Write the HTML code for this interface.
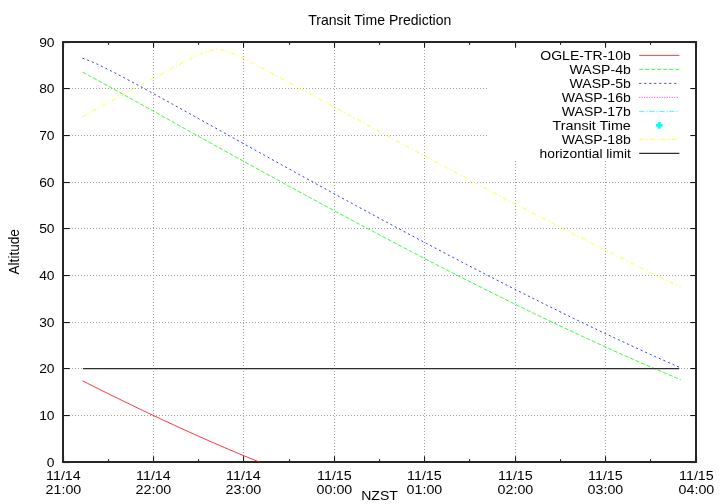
<!DOCTYPE html>
<html>
<head>
<meta charset="utf-8">
<title>Transit Time Prediction</title>
<style>
html, body { margin: 0; padding: 0; background: #ffffff; }
body { width: 720px; height: 504px; overflow: hidden; font-family: 'Liberation Sans', sans-serif; }
svg { display: block; will-change: transform; }
svg text { font-family: 'Liberation Sans', sans-serif; fill: #000; }
</style>
</head>
<body>
<svg width="720" height="504" viewBox="0 0 720 504">
<rect x="0" y="0" width="720" height="504" fill="#ffffff"/>
<line x1="63" y1="415.5" x2="696" y2="415.5" stroke="#a0a0a0" stroke-width="1" stroke-dasharray="1 2" shape-rendering="crispEdges"/>
<line x1="63" y1="368.5" x2="696" y2="368.5" stroke="#a0a0a0" stroke-width="1" stroke-dasharray="1 2" shape-rendering="crispEdges"/>
<line x1="63" y1="322.5" x2="696" y2="322.5" stroke="#a0a0a0" stroke-width="1" stroke-dasharray="1 2" shape-rendering="crispEdges"/>
<line x1="63" y1="275.5" x2="696" y2="275.5" stroke="#a0a0a0" stroke-width="1" stroke-dasharray="1 2" shape-rendering="crispEdges"/>
<line x1="63" y1="228.5" x2="696" y2="228.5" stroke="#a0a0a0" stroke-width="1" stroke-dasharray="1 2" shape-rendering="crispEdges"/>
<line x1="63" y1="182.5" x2="696" y2="182.5" stroke="#a0a0a0" stroke-width="1" stroke-dasharray="1 2" shape-rendering="crispEdges"/>
<line x1="63" y1="135.5" x2="487" y2="135.5" stroke="#a0a0a0" stroke-width="1" stroke-dasharray="1 2" shape-rendering="crispEdges"/>
<line x1="63" y1="88.5" x2="487" y2="88.5" stroke="#a0a0a0" stroke-width="1" stroke-dasharray="1 2" shape-rendering="crispEdges"/>
<line x1="153.5" y1="41" x2="153.5" y2="462" stroke="#a0a0a0" stroke-width="1" stroke-dasharray="1 2" shape-rendering="crispEdges"/>
<line x1="243.5" y1="41" x2="243.5" y2="462" stroke="#a0a0a0" stroke-width="1" stroke-dasharray="1 2" shape-rendering="crispEdges"/>
<line x1="334.5" y1="41" x2="334.5" y2="462" stroke="#a0a0a0" stroke-width="1" stroke-dasharray="1 2" shape-rendering="crispEdges"/>
<line x1="424.5" y1="41" x2="424.5" y2="462" stroke="#a0a0a0" stroke-width="1" stroke-dasharray="1 2" shape-rendering="crispEdges"/>
<line x1="515.5" y1="161" x2="515.5" y2="462" stroke="#a0a0a0" stroke-width="1" stroke-dasharray="1 2" shape-rendering="crispEdges"/>
<line x1="605.5" y1="161" x2="605.5" y2="462" stroke="#a0a0a0" stroke-width="1" stroke-dasharray="1 2" shape-rendering="crispEdges"/>
<line x1="63" y1="462.55" x2="69.7" y2="462.55" stroke="#141414" stroke-width="1.05"/>
<line x1="696" y1="462.55" x2="690.3" y2="462.55" stroke="#141414" stroke-width="1.05"/>
<line x1="63" y1="415.55" x2="69.7" y2="415.55" stroke="#141414" stroke-width="1.05"/>
<line x1="696" y1="415.55" x2="690.3" y2="415.55" stroke="#141414" stroke-width="1.05"/>
<line x1="63" y1="368.55" x2="69.7" y2="368.55" stroke="#141414" stroke-width="1.05"/>
<line x1="696" y1="368.55" x2="690.3" y2="368.55" stroke="#141414" stroke-width="1.05"/>
<line x1="63" y1="322.55" x2="69.7" y2="322.55" stroke="#141414" stroke-width="1.05"/>
<line x1="696" y1="322.55" x2="690.3" y2="322.55" stroke="#141414" stroke-width="1.05"/>
<line x1="63" y1="275.55" x2="69.7" y2="275.55" stroke="#141414" stroke-width="1.05"/>
<line x1="696" y1="275.55" x2="690.3" y2="275.55" stroke="#141414" stroke-width="1.05"/>
<line x1="63" y1="228.55" x2="69.7" y2="228.55" stroke="#141414" stroke-width="1.05"/>
<line x1="696" y1="228.55" x2="690.3" y2="228.55" stroke="#141414" stroke-width="1.05"/>
<line x1="63" y1="182.55" x2="69.7" y2="182.55" stroke="#141414" stroke-width="1.05"/>
<line x1="696" y1="182.55" x2="690.3" y2="182.55" stroke="#141414" stroke-width="1.05"/>
<line x1="63" y1="135.55" x2="69.7" y2="135.55" stroke="#141414" stroke-width="1.05"/>
<line x1="696" y1="135.55" x2="690.3" y2="135.55" stroke="#141414" stroke-width="1.05"/>
<line x1="63" y1="88.55" x2="69.7" y2="88.55" stroke="#141414" stroke-width="1.05"/>
<line x1="696" y1="88.55" x2="690.3" y2="88.55" stroke="#141414" stroke-width="1.05"/>
<line x1="63" y1="42.55" x2="69.7" y2="42.55" stroke="#141414" stroke-width="1.05"/>
<line x1="696" y1="42.55" x2="690.3" y2="42.55" stroke="#141414" stroke-width="1.05"/>
<line x1="63.55" y1="462" x2="63.55" y2="456.3" stroke="#141414" stroke-width="1.05"/>
<line x1="63.55" y1="42" x2="63.55" y2="47.7" stroke="#141414" stroke-width="1.05"/>
<line x1="108.55" y1="462" x2="108.55" y2="459.2" stroke="#141414" stroke-width="1.05"/>
<line x1="108.55" y1="42" x2="108.55" y2="44.8" stroke="#141414" stroke-width="1.05"/>
<line x1="153.55" y1="462" x2="153.55" y2="456.3" stroke="#141414" stroke-width="1.05"/>
<line x1="153.55" y1="42" x2="153.55" y2="47.7" stroke="#141414" stroke-width="1.05"/>
<line x1="198.55" y1="462" x2="198.55" y2="459.2" stroke="#141414" stroke-width="1.05"/>
<line x1="198.55" y1="42" x2="198.55" y2="44.8" stroke="#141414" stroke-width="1.05"/>
<line x1="243.55" y1="462" x2="243.55" y2="456.3" stroke="#141414" stroke-width="1.05"/>
<line x1="243.55" y1="42" x2="243.55" y2="47.7" stroke="#141414" stroke-width="1.05"/>
<line x1="289.55" y1="462" x2="289.55" y2="459.2" stroke="#141414" stroke-width="1.05"/>
<line x1="289.55" y1="42" x2="289.55" y2="44.8" stroke="#141414" stroke-width="1.05"/>
<line x1="334.55" y1="462" x2="334.55" y2="456.3" stroke="#141414" stroke-width="1.05"/>
<line x1="334.55" y1="42" x2="334.55" y2="47.7" stroke="#141414" stroke-width="1.05"/>
<line x1="379.55" y1="462" x2="379.55" y2="459.2" stroke="#141414" stroke-width="1.05"/>
<line x1="379.55" y1="42" x2="379.55" y2="44.8" stroke="#141414" stroke-width="1.05"/>
<line x1="424.55" y1="462" x2="424.55" y2="456.3" stroke="#141414" stroke-width="1.05"/>
<line x1="424.55" y1="42" x2="424.55" y2="47.7" stroke="#141414" stroke-width="1.05"/>
<line x1="469.55" y1="462" x2="469.55" y2="459.2" stroke="#141414" stroke-width="1.05"/>
<line x1="469.55" y1="42" x2="469.55" y2="44.8" stroke="#141414" stroke-width="1.05"/>
<line x1="515.55" y1="462" x2="515.55" y2="456.3" stroke="#141414" stroke-width="1.05"/>
<line x1="515.55" y1="42" x2="515.55" y2="47.7" stroke="#141414" stroke-width="1.05"/>
<line x1="560.55" y1="462" x2="560.55" y2="459.2" stroke="#141414" stroke-width="1.05"/>
<line x1="560.55" y1="42" x2="560.55" y2="44.8" stroke="#141414" stroke-width="1.05"/>
<line x1="605.55" y1="462" x2="605.55" y2="456.3" stroke="#141414" stroke-width="1.05"/>
<line x1="605.55" y1="42" x2="605.55" y2="47.7" stroke="#141414" stroke-width="1.05"/>
<line x1="650.55" y1="462" x2="650.55" y2="459.2" stroke="#141414" stroke-width="1.05"/>
<line x1="650.55" y1="42" x2="650.55" y2="44.8" stroke="#141414" stroke-width="1.05"/>
<line x1="696.55" y1="462" x2="696.55" y2="456.3" stroke="#141414" stroke-width="1.05"/>
<line x1="696.55" y1="42" x2="696.55" y2="47.7" stroke="#141414" stroke-width="1.05"/>
<rect x="63" y="42" width="633" height="420" fill="none" stroke="#262626" stroke-width="2"/>
<text transform="translate(54.55,466.50) scale(0.99,0.9)" text-anchor="end" font-size="14.0">0</text>
<text transform="translate(54.55,419.83) scale(0.99,0.9)" text-anchor="end" font-size="14.0">10</text>
<text transform="translate(54.55,373.17) scale(0.99,0.9)" text-anchor="end" font-size="14.0">20</text>
<text transform="translate(54.55,326.50) scale(0.99,0.9)" text-anchor="end" font-size="14.0">30</text>
<text transform="translate(54.55,279.83) scale(0.99,0.9)" text-anchor="end" font-size="14.0">40</text>
<text transform="translate(54.55,233.17) scale(0.99,0.9)" text-anchor="end" font-size="14.0">50</text>
<text transform="translate(54.55,186.50) scale(0.99,0.9)" text-anchor="end" font-size="14.0">60</text>
<text transform="translate(54.55,139.83) scale(0.99,0.9)" text-anchor="end" font-size="14.0">70</text>
<text transform="translate(54.55,93.17) scale(0.99,0.9)" text-anchor="end" font-size="14.0">80</text>
<text transform="translate(54.55,46.50) scale(0.99,0.9)" text-anchor="end" font-size="14.0">90</text>
<text transform="translate(63.40,479.70) scale(1.02,0.9)" text-anchor="middle" font-size="14.0">11/14</text>
<text transform="translate(63.40,493.60) scale(1.02,0.9)" text-anchor="middle" font-size="14.0">21:00</text>
<text transform="translate(153.40,479.70) scale(1.02,0.9)" text-anchor="middle" font-size="14.0">11/14</text>
<text transform="translate(153.40,493.60) scale(1.02,0.9)" text-anchor="middle" font-size="14.0">22:00</text>
<text transform="translate(243.40,479.70) scale(1.02,0.9)" text-anchor="middle" font-size="14.0">11/14</text>
<text transform="translate(243.40,493.60) scale(1.02,0.9)" text-anchor="middle" font-size="14.0">23:00</text>
<text transform="translate(334.40,479.70) scale(1.02,0.9)" text-anchor="middle" font-size="14.0">11/15</text>
<text transform="translate(334.40,493.60) scale(1.02,0.9)" text-anchor="middle" font-size="14.0">00:00</text>
<text transform="translate(424.40,479.70) scale(1.02,0.9)" text-anchor="middle" font-size="14.0">11/15</text>
<text transform="translate(424.40,493.60) scale(1.02,0.9)" text-anchor="middle" font-size="14.0">01:00</text>
<text transform="translate(515.40,479.70) scale(1.02,0.9)" text-anchor="middle" font-size="14.0">11/15</text>
<text transform="translate(515.40,493.60) scale(1.02,0.9)" text-anchor="middle" font-size="14.0">02:00</text>
<text transform="translate(605.40,479.70) scale(1.02,0.9)" text-anchor="middle" font-size="14.0">11/15</text>
<text transform="translate(605.40,493.60) scale(1.02,0.9)" text-anchor="middle" font-size="14.0">03:00</text>
<text transform="translate(696.40,479.70) scale(1.02,0.9)" text-anchor="middle" font-size="14.0">11/15</text>
<text transform="translate(696.40,493.60) scale(1.02,0.9)" text-anchor="middle" font-size="14.0">04:00</text>
<text transform="translate(379.80,24.80) scale(1.004,1)" text-anchor="middle" font-size="14.0">Transit Time Prediction</text>
<text transform="translate(379.50,500.20) scale(1.004,0.93)" text-anchor="middle" font-size="14.0">NZST</text>
<text transform="translate(19.3,251.8) rotate(-90) scale(1,1.05)" text-anchor="middle" font-size="13.6">Altitude</text>
<path d="M82.50,380.82 L84.99,382.08 L87.48,383.33 L89.98,384.59 L92.47,385.84 L94.96,387.08 L97.46,388.33 L99.95,389.57 L102.44,390.81 L104.93,392.05 L107.42,393.28 L109.92,394.51 L112.41,395.74 L114.90,396.96 L117.39,398.19 L119.89,399.40 L122.38,400.62 L124.87,401.83 L127.37,403.04 L129.86,404.25 L132.35,405.46 L134.84,406.66 L137.34,407.86 L139.83,409.05 L142.32,410.24 L144.81,411.43 L147.31,412.62 L149.80,413.80 L152.29,414.98 L154.78,416.15 L157.28,417.32 L159.77,418.49 L162.26,419.66 L164.75,420.82 L167.25,421.98 L169.74,423.13 L172.23,424.28 L174.72,425.43 L177.22,426.58 L179.71,427.72 L182.20,428.85 L184.69,429.99 L187.19,431.12 L189.68,432.24 L192.17,433.36 L194.66,434.48 L197.16,435.60 L199.65,436.71 L202.14,437.81 L204.63,438.91 L207.12,440.01 L209.62,441.11 L212.11,442.20 L214.60,443.28 L217.10,444.37 L219.59,445.44 L222.08,446.52 L224.57,447.59 L227.07,448.65 L229.56,449.71 L232.05,450.77 L234.54,451.82 L237.04,452.87 L239.53,453.91 L242.02,454.95 L244.51,455.98 L247.01,457.01 L249.50,458.04 L251.99,459.06 L254.48,460.07 L256.98,461.08 L259.47,462.09 L260.49,462.50" fill="none" stroke="#ff0000" stroke-width="0.8"/>
<path d="M82.50,72.04 L84.99,73.38 L87.48,74.73 L89.98,76.09 L92.47,77.45 L94.96,78.81 L97.46,80.17 L99.95,81.54 L102.44,82.91 L104.93,84.28 L107.42,85.66 L109.92,87.04 L112.41,88.41 L114.90,89.79 L117.39,91.17 L119.89,92.55 L122.38,93.94 L124.87,95.32 L127.37,96.70 L129.86,98.09 L132.35,99.48 L134.84,100.86 L137.34,102.25 L139.83,103.63 L142.32,105.02 L144.81,106.41 L147.31,107.80 L149.80,109.18 L152.29,110.57 L154.78,111.96 L157.28,113.35 L159.77,114.74 L162.26,116.13 L164.75,117.51 L167.25,118.90 L169.74,120.29 L172.23,121.68 L174.72,123.06 L177.22,124.45 L179.71,125.84 L182.20,127.23 L184.69,128.61 L187.19,130.00 L189.68,131.38 L192.17,132.77 L194.66,134.16 L197.16,135.54 L199.65,136.93 L202.14,138.31 L204.63,139.69 L207.12,141.08 L209.62,142.46 L212.11,143.84 L214.60,145.22 L217.10,146.61 L219.59,147.99 L222.08,149.37 L224.57,150.75 L227.07,152.13 L229.56,153.50 L232.05,154.88 L234.54,156.26 L237.04,157.64 L239.53,159.01 L242.02,160.39 L244.51,161.76 L247.01,163.14 L249.50,164.51 L251.99,165.88 L254.48,167.26 L256.98,168.63 L259.47,170.00 L261.96,171.37 L264.45,172.74 L266.95,174.10 L269.44,175.47 L271.93,176.84 L274.42,178.21 L276.91,179.57 L279.41,180.93 L281.90,182.30 L284.39,183.66 L286.88,185.02 L289.38,186.38 L291.87,187.74 L294.36,189.10 L296.86,190.46 L299.35,191.82 L301.84,193.17 L304.33,194.53 L306.83,195.88 L309.32,197.23 L311.81,198.59 L314.30,199.94 L316.80,201.29 L319.29,202.64 L321.78,203.98 L324.27,205.33 L326.77,206.68 L329.26,208.02 L331.75,209.37 L334.24,210.71 L336.74,212.05 L339.23,213.39 L341.72,214.73 L344.21,216.07 L346.71,217.40 L349.20,218.74 L351.69,220.07 L354.18,221.41 L356.68,222.74 L359.17,224.07 L361.66,225.40 L364.15,226.73 L366.65,228.05 L369.14,229.38 L371.63,230.70 L374.12,232.02 L376.62,233.35 L379.11,234.67 L381.60,235.98 L384.09,237.30 L386.59,238.62 L389.08,239.93 L391.57,241.25 L394.06,242.56 L396.56,243.87 L399.05,245.18 L401.54,246.48 L404.03,247.79 L406.53,249.09 L409.02,250.40 L411.51,251.70 L414.00,253.00 L416.50,254.30 L418.99,255.59 L421.48,256.89 L423.97,258.18 L426.47,259.47 L428.96,260.76 L431.45,262.05 L433.94,263.34 L436.44,264.62 L438.93,265.91 L441.42,267.19 L443.91,268.47 L446.41,269.75 L448.90,271.02 L451.39,272.30 L453.88,273.57 L456.38,274.84 L458.87,276.11 L461.36,277.38 L463.85,278.65 L466.35,279.91 L468.84,281.17 L471.33,282.43 L473.82,283.69 L476.32,284.95 L478.81,286.20 L481.30,287.45 L483.79,288.70 L486.29,289.95 L488.78,291.20 L491.27,292.44 L493.76,293.68 L496.26,294.92 L498.75,296.16 L501.24,297.40 L503.73,298.63 L506.23,299.87 L508.72,301.09 L511.21,302.32 L513.70,303.55 L516.19,304.77 L518.69,305.99 L521.18,307.21 L523.67,308.43 L526.17,309.64 L528.66,310.85 L531.15,312.06 L533.64,313.27 L536.13,314.47 L538.63,315.68 L541.12,316.88 L543.61,318.08 L546.11,319.27 L548.60,320.46 L551.09,321.65 L553.58,322.84 L556.08,324.03 L558.57,325.21 L561.06,326.39 L563.55,327.57 L566.05,328.74 L568.54,329.92 L571.03,331.09 L573.52,332.26 L576.01,333.42 L578.51,334.58 L581.00,335.74 L583.49,336.90 L585.99,338.05 L588.48,339.20 L590.97,340.35 L593.46,341.50 L595.96,342.64 L598.45,343.78 L600.94,344.92 L603.43,346.05 L605.93,347.18 L608.42,348.31 L610.91,349.44 L613.40,350.56 L615.90,351.68 L618.39,352.80 L620.88,353.91 L623.37,355.02 L625.87,356.13 L628.36,357.23 L630.85,358.34 L633.34,359.43 L635.84,360.53 L638.33,361.62 L640.82,362.71 L643.31,363.79 L645.81,364.88 L648.30,365.95 L650.79,367.03 L653.28,368.10 L655.78,369.17 L658.27,370.24 L660.76,371.30 L663.25,372.36 L665.75,373.41 L668.24,374.46 L670.73,375.51 L673.22,376.56 L675.72,377.60 L678.21,378.64 L680.70,379.67" fill="none" stroke="#00ff00" stroke-width="0.8" stroke-dasharray="4.1 1.9"/>
<path d="M82.50,58.16 L84.99,59.04 L87.48,59.98 L89.98,60.99 L92.47,62.05 L94.96,63.15 L97.46,64.29 L99.95,65.46 L102.44,66.65 L104.93,67.87 L107.42,69.11 L109.92,70.36 L112.41,71.63 L114.90,72.92 L117.39,74.21 L119.89,75.52 L122.38,76.83 L124.87,78.15 L127.37,79.48 L129.86,80.81 L132.35,82.15 L134.84,83.49 L137.34,84.84 L139.83,86.20 L142.32,87.55 L144.81,88.91 L147.31,90.27 L149.80,91.64 L152.29,93.01 L154.78,94.38 L157.28,95.75 L159.77,97.12 L162.26,98.50 L164.75,99.88 L167.25,101.25 L169.74,102.63 L172.23,104.01 L174.72,105.39 L177.22,106.78 L179.71,108.16 L182.20,109.54 L184.69,110.93 L187.19,112.31 L189.68,113.70 L192.17,115.09 L194.66,116.47 L197.16,117.86 L199.65,119.25 L202.14,120.64 L204.63,122.02 L207.12,123.41 L209.62,124.80 L212.11,126.19 L214.60,127.58 L217.10,128.96 L219.59,130.35 L222.08,131.74 L224.57,133.13 L227.07,134.52 L229.56,135.90 L232.05,137.29 L234.54,138.68 L237.04,140.06 L239.53,141.45 L242.02,142.84 L244.51,144.22 L247.01,145.61 L249.50,147.00 L251.99,148.38 L254.48,149.77 L256.98,151.15 L259.47,152.53 L261.96,153.92 L264.45,155.30 L266.95,156.68 L269.44,158.06 L271.93,159.45 L274.42,160.83 L276.91,162.21 L279.41,163.59 L281.90,164.97 L284.39,166.34 L286.88,167.72 L289.38,169.10 L291.87,170.48 L294.36,171.85 L296.86,173.23 L299.35,174.60 L301.84,175.98 L304.33,177.35 L306.83,178.72 L309.32,180.09 L311.81,181.46 L314.30,182.83 L316.80,184.20 L319.29,185.57 L321.78,186.94 L324.27,188.31 L326.77,189.67 L329.26,191.04 L331.75,192.40 L334.24,193.76 L336.74,195.13 L339.23,196.49 L341.72,197.85 L344.21,199.21 L346.71,200.57 L349.20,201.92 L351.69,203.28 L354.18,204.64 L356.68,205.99 L359.17,207.34 L361.66,208.70 L364.15,210.05 L366.65,211.40 L369.14,212.75 L371.63,214.10 L374.12,215.44 L376.62,216.79 L379.11,218.13 L381.60,219.48 L384.09,220.82 L386.59,222.16 L389.08,223.50 L391.57,224.84 L394.06,226.18 L396.56,227.51 L399.05,228.85 L401.54,230.18 L404.03,231.52 L406.53,232.85 L409.02,234.18 L411.51,235.51 L414.00,236.83 L416.50,238.16 L418.99,239.48 L421.48,240.81 L423.97,242.13 L426.47,243.45 L428.96,244.77 L431.45,246.09 L433.94,247.40 L436.44,248.72 L438.93,250.03 L441.42,251.34 L443.91,252.65 L446.41,253.96 L448.90,255.27 L451.39,256.57 L453.88,257.88 L456.38,259.18 L458.87,260.48 L461.36,261.78 L463.85,263.08 L466.35,264.37 L468.84,265.67 L471.33,266.96 L473.82,268.25 L476.32,269.54 L478.81,270.83 L481.30,272.12 L483.79,273.40 L486.29,274.68 L488.78,275.96 L491.27,277.24 L493.76,278.52 L496.26,279.79 L498.75,281.07 L501.24,282.34 L503.73,283.61 L506.23,284.88 L508.72,286.14 L511.21,287.41 L513.70,288.67 L516.19,289.93 L518.69,291.19 L521.18,292.44 L523.67,293.70 L526.17,294.95 L528.66,296.20 L531.15,297.45 L533.64,298.70 L536.13,299.94 L538.63,301.18 L541.12,302.42 L543.61,303.66 L546.11,304.89 L548.60,306.13 L551.09,307.36 L553.58,308.59 L556.08,309.81 L558.57,311.04 L561.06,312.26 L563.55,313.48 L566.05,314.70 L568.54,315.91 L571.03,317.13 L573.52,318.34 L576.01,319.54 L578.51,320.75 L581.00,321.95 L583.49,323.15 L585.99,324.35 L588.48,325.55 L590.97,326.74 L593.46,327.93 L595.96,329.12 L598.45,330.31 L600.94,331.49 L603.43,332.67 L605.93,333.85 L608.42,335.02 L610.91,336.20 L613.40,337.37 L615.90,338.54 L618.39,339.70 L620.88,340.86 L623.37,342.02 L625.87,343.18 L628.36,344.33 L630.85,345.48 L633.34,346.63 L635.84,347.78 L638.33,348.92 L640.82,350.06 L643.31,351.19 L645.81,352.33 L648.30,353.46 L650.79,354.59 L653.28,355.71 L655.78,356.83 L658.27,357.95 L660.76,359.07 L663.25,360.18 L665.75,361.29 L668.24,362.39 L670.73,363.50 L673.22,364.59 L675.72,365.69 L678.21,366.78 L680.70,367.87" fill="none" stroke="#0000ff" stroke-width="0.8" stroke-dasharray="2.1 2.9"/>
<path d="M82.50,116.67 L84.99,115.31 L87.48,113.96 L89.98,112.61 L92.47,111.26 L94.96,109.91 L97.46,108.56 L99.95,107.20 L102.44,105.85 L104.93,104.50 L107.42,103.15 L109.92,101.79 L112.41,100.44 L114.90,99.09 L117.39,97.74 L119.89,96.39 L122.38,95.03 L124.87,93.68 L127.37,92.33 L129.86,90.98 L132.35,89.63 L134.84,88.28 L137.34,86.93 L139.83,85.59 L142.32,84.24 L144.81,82.89 L147.31,81.55 L149.80,80.20 L152.29,78.86 L154.78,77.52 L157.28,76.18 L159.77,74.85 L162.26,73.51 L164.75,72.18 L167.25,70.86 L169.74,69.53 L172.23,68.21 L174.72,66.90 L177.22,65.59 L179.71,64.29 L182.20,63.00 L184.69,61.72 L187.19,60.45 L189.68,59.20 L192.17,57.97 L194.66,56.77 L197.16,55.59 L199.65,54.46 L202.14,53.38 L204.63,52.38 L207.12,51.47 L209.62,50.70 L212.11,50.09 L214.60,49.69 L217.10,49.55 L219.59,49.66 L222.08,50.03 L224.57,50.62 L227.07,51.38 L229.56,52.28 L232.05,53.27 L234.54,54.34 L237.04,55.47 L239.53,56.64 L242.02,57.84 L244.51,59.07 L247.01,60.32 L249.50,61.58 L251.99,62.86 L254.48,64.15 L256.98,65.45 L259.47,66.76 L261.96,68.07 L264.45,69.39 L266.95,70.71 L269.44,72.04 L271.93,73.37 L274.42,74.70 L276.91,76.04 L279.41,77.38 L281.90,78.72 L284.39,80.06 L286.88,81.40 L289.38,82.75 L291.87,84.09 L294.36,85.44 L296.86,86.79 L299.35,88.14 L301.84,89.49 L304.33,90.84 L306.83,92.19 L309.32,93.54 L311.81,94.89 L314.30,96.24 L316.80,97.59 L319.29,98.95 L321.78,100.30 L324.27,101.65 L326.77,103.00 L329.26,104.35 L331.75,105.71 L334.24,107.06 L336.74,108.41 L339.23,109.76 L341.72,111.12 L344.21,112.47 L346.71,113.82 L349.20,115.17 L351.69,116.52 L354.18,117.87 L356.68,119.22 L359.17,120.57 L361.66,121.92 L364.15,123.27 L366.65,124.62 L369.14,125.97 L371.63,127.32 L374.12,128.67 L376.62,130.02 L379.11,131.36 L381.60,132.71 L384.09,134.06 L386.59,135.40 L389.08,136.75 L391.57,138.09 L394.06,139.44 L396.56,140.78 L399.05,142.12 L401.54,143.46 L404.03,144.81 L406.53,146.15 L409.02,147.49 L411.51,148.83 L414.00,150.17 L416.50,151.51 L418.99,152.85 L421.48,154.18 L423.97,155.52 L426.47,156.86 L428.96,158.19 L431.45,159.53 L433.94,160.86 L436.44,162.19 L438.93,163.52 L441.42,164.86 L443.91,166.19 L446.41,167.52 L448.90,168.85 L451.39,170.17 L453.88,171.50 L456.38,172.83 L458.87,174.15 L461.36,175.48 L463.85,176.80 L466.35,178.13 L468.84,179.45 L471.33,180.77 L473.82,182.09 L476.32,183.41 L478.81,184.73 L481.30,186.04 L483.79,187.36 L486.29,188.68 L488.78,189.99 L491.27,191.30 L493.76,192.62 L496.26,193.93 L498.75,195.24 L501.24,196.55 L503.73,197.85 L506.23,199.16 L508.72,200.47 L511.21,201.77 L513.70,203.07 L516.19,204.38 L518.69,205.68 L521.18,206.98 L523.67,208.28 L526.17,209.57 L528.66,210.87 L531.15,212.17 L533.64,213.46 L536.13,214.75 L538.63,216.04 L541.12,217.33 L543.61,218.62 L546.11,219.91 L548.60,221.20 L551.09,222.48 L553.58,223.77 L556.08,225.05 L558.57,226.33 L561.06,227.61 L563.55,228.89 L566.05,230.16 L568.54,231.44 L571.03,232.71 L573.52,233.99 L576.01,235.26 L578.51,236.53 L581.00,237.79 L583.49,239.06 L585.99,240.33 L588.48,241.59 L590.97,242.85 L593.46,244.11 L595.96,245.37 L598.45,246.63 L600.94,247.88 L603.43,249.14 L605.93,250.39 L608.42,251.64 L610.91,252.89 L613.40,254.14 L615.90,255.38 L618.39,256.63 L620.88,257.87 L623.37,259.11 L625.87,260.35 L628.36,261.59 L630.85,262.82 L633.34,264.05 L635.84,265.29 L638.33,266.52 L640.82,267.74 L643.31,268.97 L645.81,270.20 L648.30,271.42 L650.79,272.64 L653.28,273.86 L655.78,275.07 L658.27,276.29 L660.76,277.50 L663.25,278.71 L665.75,279.92 L668.24,281.13 L670.73,282.33 L673.22,283.54 L675.72,284.74 L678.21,285.94 L680.70,287.13" fill="none" stroke="#ffff00" stroke-width="0.8" stroke-dasharray="4.5 2.7 1.2 2.6"/>
<line x1="83" y1="368.65" x2="679.3" y2="368.65" stroke="#2e2e2e" stroke-width="1.3"/>
<text transform="translate(630.80,60.00) scale(1.004,0.96)" text-anchor="end" font-size="14.0">OGLE-TR-10b</text>
<line x1="639.2" y1="55.4" x2="679.4" y2="55.4" stroke="#ff0000" stroke-width="0.75"/>
<text transform="translate(630.80,74.00) scale(1.004,0.96)" text-anchor="end" font-size="14.0">WASP-4b</text>
<line x1="639.2" y1="69.4" x2="679.4" y2="69.4" stroke="#00ff00" stroke-width="0.75" stroke-dasharray="4.1 1.9"/>
<text transform="translate(630.80,88.00) scale(1.004,0.96)" text-anchor="end" font-size="14.0">WASP-5b</text>
<line x1="639.2" y1="83.4" x2="677.3" y2="83.4" stroke="#0000ff" stroke-width="0.75" stroke-dasharray="2.1 2.9"/>
<text transform="translate(630.80,102.00) scale(1.004,0.96)" text-anchor="end" font-size="14.0">WASP-16b</text>
<line x1="639.2" y1="97.4" x2="678.4" y2="97.4" stroke="#ff00ff" stroke-width="0.75" stroke-dasharray="1.1 1.4"/>
<text transform="translate(630.80,116.00) scale(1.004,0.96)" text-anchor="end" font-size="14.0">WASP-17b</text>
<line x1="639.2" y1="111.4" x2="678.2" y2="111.4" stroke="#00ffff" stroke-width="0.75" stroke-dasharray="5.3 2 1.2 1.5"/>
<text transform="translate(630.80,130.00) scale(1.024,0.96)" text-anchor="end" font-size="14.0">Transit Time</text>
<path d="M655.9000000000001,124.0h1.9v-1.9h2.8v1.9h1.9v2.8h-1.9v1.9h-2.8v-1.9h-1.9z" fill="#00ffff"/>
<text transform="translate(630.80,144.00) scale(1.004,0.96)" text-anchor="end" font-size="14.0">WASP-18b</text>
<line x1="639.2" y1="139.4" x2="677.0" y2="139.4" stroke="#ffff00" stroke-width="0.75" stroke-dasharray="4.5 2.7 1.2 2.6"/>
<text transform="translate(630.80,158.00) scale(0.986,0.96)" text-anchor="end" font-size="14.0">horizontial limit</text>
<line x1="639.2" y1="153.4" x2="679.4" y2="153.4" stroke="#2e2e2e" stroke-width="1.3"/>
</svg>
</body>
</html>
